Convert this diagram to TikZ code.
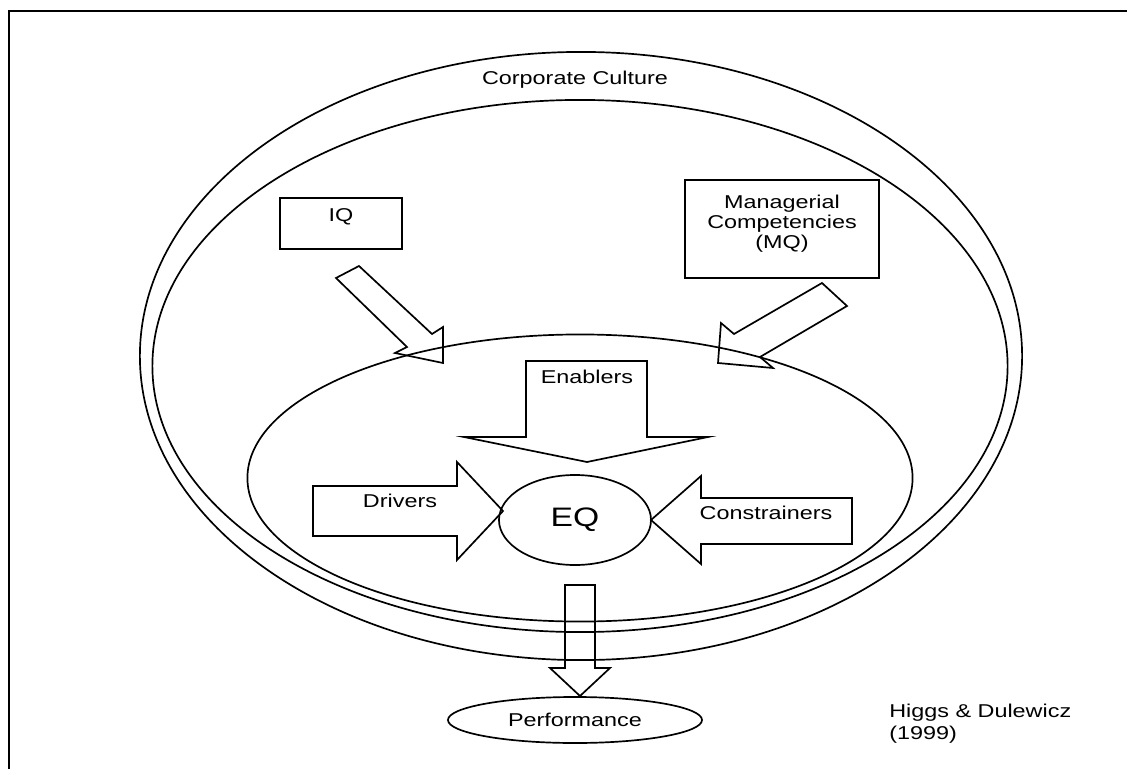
\documentclass[tikz,border=0pt]{standalone}
\usepackage{fontspec}
\setmainfont{Liberation Sans}[FakeStretch=1.26]
\usetikzlibrary{shapes.geometric}
\begin{document}
\begin{tikzpicture}[
x=0.025cm, y=-0.025cm,
ring/.style={ellipse, draw, line width=1.2pt, inner sep=0pt},
box/.style={rectangle, draw, line width=1.2pt, inner sep=0pt},
txt/.style={font=\fontsize{13.2}{14.2}\selectfont, inner sep=0pt},
blockarrow/.style={draw, line width=1.2pt, line join=miter}
]
\useasboundingbox (0,0) rectangle (1127,769);
\draw[line width=1.6pt] (1127,11) -- (9,11) -- (9,769);

\node[ring, minimum width=22.05cm, minimum height=15.2cm] (culture) at (581,356) {};
\node[ring, minimum width=21.375cm, minimum height=13.3cm] (culturein) at (580,366) {};
\node[ring, minimum width=16.625cm, minimum height=7.175cm] (domain) at (580,478) {};
\node[ring, minimum width=3.8cm, minimum height=2.25cm, font=\fontsize{19}{21}\selectfont] (eq) at (575,520) {EQ};
\node[ring, minimum width=6.35cm, minimum height=1.15cm, font=\fontsize{13.2}{14.2}\selectfont] (perf) at (575,720) {Performance};

\node[box, minimum width=3.05cm, minimum height=1.275cm] (iq) at (341,223.5) {};
\node[box, minimum width=4.85cm, minimum height=2.45cm] (mq) at (782,229) {};

\node[txt] (culturetxt) at (575,80) {Corporate Culture};
\node[txt] (iqtxt) at (341,216.5) {IQ};
\node[txt, align=center] (mqtxt) at (782,224) {Managerial\\Competencies\\(MQ)};
\node[txt] (enablers) at (587,377) {Enablers};
\node[txt] (drivers) at (400,501) {Drivers};
\node[txt] (constrainers) at (766,513) {Constrainers};
\node[txt, font=\fontsize{13.2}{15.6}\selectfont, anchor=west, align=left] (source) at (889,724) {Higgs \& Dulewicz\\(1999)};

\draw[blockarrow] (336,278) -- (359,266) -- (432,334) -- (443,327) -- (443,363) -- (395,353) -- (407,347) -- cycle;
\draw[blockarrow] (822,283) -- (847,306) -- (760,357) -- (773,368) -- (718,363) -- (721,323) -- (734,334) -- cycle;
\draw[blockarrow] (526,361) -- (647,361) -- (647,437) -- (708,437) -- (587,462) -- (464,437) -- (526,437) -- cycle;
\draw[blockarrow] (313,486) -- (457,486) -- (457,462) -- (503,511) -- (457,560) -- (457,536) -- (313,536) -- cycle;
\draw[blockarrow] (852,498) -- (701,498) -- (701,476) -- (651,520) -- (701,564) -- (701,544) -- (852,544) -- cycle;
\draw[blockarrow] (565,585) -- (595,585) -- (595,668) -- (610,668) -- (580,696) -- (550,668) -- (565,668) -- cycle;
\end{tikzpicture}
\end{document}
